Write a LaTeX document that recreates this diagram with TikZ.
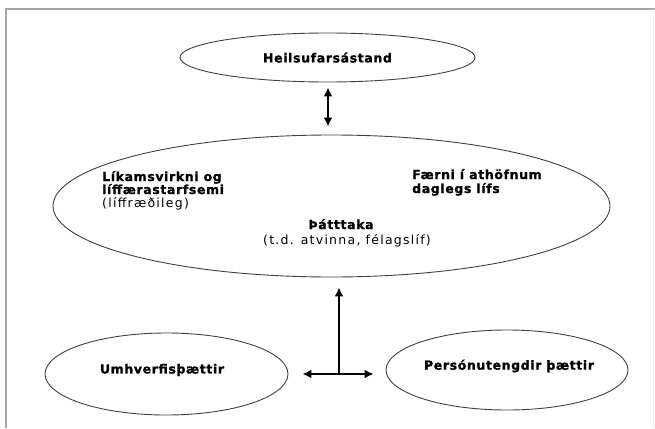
\documentclass[tikz,border=0pt]{standalone}
\usepackage{fontspec}
\usetikzlibrary{shapes.geometric,arrows.meta}
\newfontfamily\labbold{DejaVu Sans}[LetterSpace=5,BoldFeatures={FakeBold=1.2}]
\newfontfamily\labreg{DejaVu Sans}[LetterSpace=10]
\begin{document}
\begin{tikzpicture}[x=1pt,y=-1pt,
  oval/.style={ellipse,draw=black!75,line width=0.9pt,inner sep=0pt},
  bl/.style={font=\labbold\bfseries\fontsize{12.5}{13}\selectfont},
  rg/.style={font=\labreg\fontsize{12.5}{13}\selectfont},
  conn/.style={line width=1.8pt,{Latex[length=9pt,width=9pt]}-{Latex[length=9pt,width=9pt]}},
  up/.style={line width=1.8pt,-{Latex[length=9pt,width=9pt]}},
  frame/.style={draw=black!35,line width=1.4pt}]
\useasboundingbox (0,0) rectangle (655,428);
% frame
\draw[frame] (6,428) -- (6,9) -- (655,9);
\draw[draw=black!8,line width=1pt] (653,9) -- (653,428);
% ellipses
\node[oval,minimum width=295pt,minimum height=49pt,bl] (health) at (327.5,57.5) {Heilsufarsástand};
\node[oval,minimum width=557pt,minimum height=142pt] (big) at (331.5,206) {};
\node[oval,minimum width=243pt,minimum height=82pt] (env) at (166.5,374) {};
\node[oval,minimum width=242pt,minimum height=80pt] (pers) at (507,370) {};
% texts
\node[bl,anchor=base west,inner sep=0pt] (t1) at (102,181) {Líkamsvirkni og};
\node[bl,anchor=base west,inner sep=0pt] (t2) at (102,194) {líffærastarfsemi};
\node[rg,anchor=base west,inner sep=0pt] (t3) at (102,207) {(líffræðileg)};
\node[bl,anchor=base west,inner sep=0pt] (t4) at (412,179) {Færni í athöfnum};
\node[bl,anchor=base west,inner sep=0pt] (t5) at (412,193) {daglegs lífs};
\node[bl,anchor=base,inner sep=0pt] (t6) at (341,229) {Þátttaka};
\node[rg,anchor=base,inner sep=0pt] (t7) at (347,244) {(t.d. atvinna, félagslíf)};
\node[bl,inner sep=0pt] (envt) at (162,370) {Umhverfisþættir};
\node[bl,inner sep=0pt] (perst) at (509,366) {Persónutengdir þættir};
% connectors
\coordinate (j) at (339,374);
\draw[conn,shorten <=5pt,shorten >=8pt] (health.south -| 328,0) -- (big.north -| 328,0);
\draw[up,shorten >=10pt] (j) -- (j |- big.south);
\draw[conn,shorten <=14pt,shorten >=12pt] (j -| env.east) -- (j -| pers.west);
\end{tikzpicture}
\end{document}
